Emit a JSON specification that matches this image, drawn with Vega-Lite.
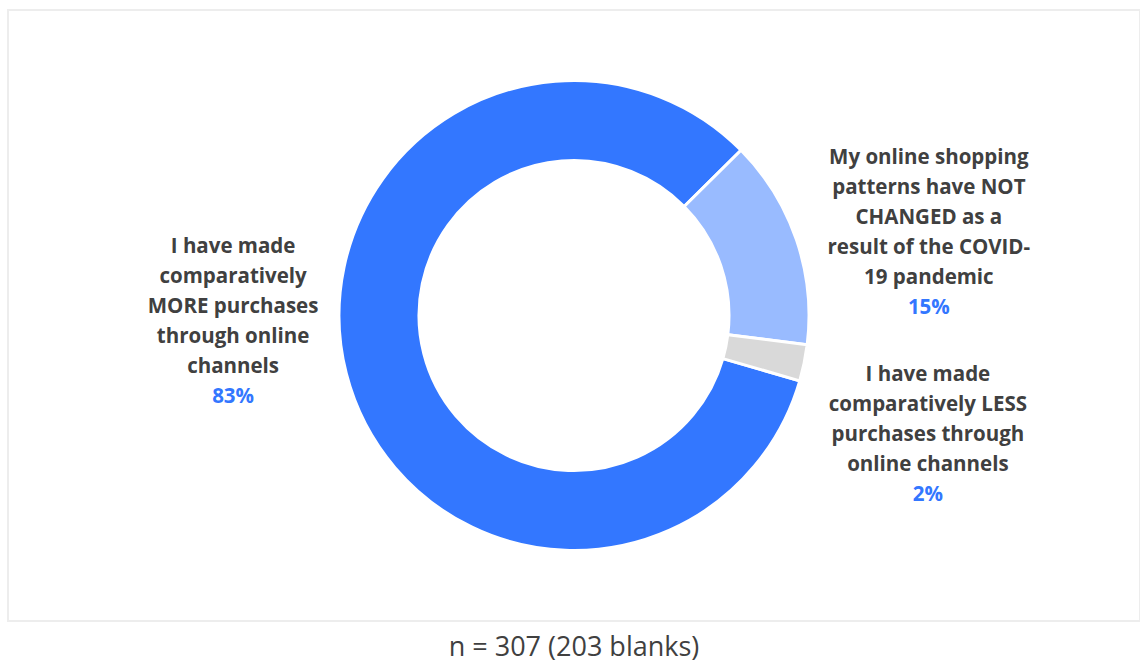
{
  "$schema": "https://vega.github.io/schema/vega-lite/v6.json",
  "autosize": "none",
  "width": 1132,
  "height": 611,
  "padding": {"left": 8, "top": 10, "right": 0, "bottom": 44},
  "background": "white",
  "view": {"stroke": "#EDEDED", "strokeWidth": 2},
  "config": {
    "view": {"stroke": "#EDEDED", "strokeWidth": 2},
    "text": {"font": "Open Sans"}
  },
  "title": {
    "text": "n = 307 (203 blanks)",
    "orient": "bottom",
    "anchor": "middle",
    "font": "Open Sans",
    "fontSize": 27,
    "fontWeight": "normal",
    "color": "#404040",
    "offset": 14
  },
  "data": {
    "values": [
      {"category": "more", "label": ["I have made", "comparatively", "MORE purchases", "through online", "channels"], "pct": "83%", "value": 83.1, "order": 3},
      {"category": "notchanged", "label": ["My online shopping", "patterns have NOT", "CHANGED as a", "result of the COVID-", "19 pandemic"], "pct": "15%", "value": 14.4, "order": 1},
      {"category": "less", "label": ["I have made", "comparatively LESS", "purchases through", "online channels"], "pct": "2%", "value": 2.5, "order": 2}
    ]
  },
  "layer": [
    {
      "mark": {"type": "arc", "outerRadius": 235, "innerRadius": 155, "stroke": "white", "strokeWidth": 3},
      "encoding": {
        "theta": {"field": "value", "type": "quantitative", "stack": true, "scale": {"range": [0.7906, 7.0738]}},
        "color": {
          "field": "category", "type": "nominal",
          "scale": {"domain": ["more", "notchanged", "less"], "range": ["#3377FF", "#99BBFF", "#D9D9D9"]},
          "legend": null
        },
        "order": {"field": "order", "type": "quantitative"}
      }
    },
    {
      "transform": [{"filter": "datum.category == 'notchanged'"}],
      "mark": {"type": "text", "theta": 1.3027, "radius": 368, "dy": -60, "align": "center", "baseline": "middle", "fontSize": 20.5, "fontWeight": "bold", "lineHeight": 30, "fill": "#404040"},
      "encoding": {"text": {"field": "label", "type": "nominal"}}
    },
    {
      "transform": [{"filter": "datum.category == 'notchanged'"}],
      "mark": {"type": "text", "theta": 1.3027, "radius": 368, "dy": 90, "align": "center", "baseline": "middle", "fontSize": 20.5, "fontWeight": "bold", "fill": "#3377FF"},
      "encoding": {"text": {"field": "pct", "type": "nominal"}}
    },
    {
      "transform": [{"filter": "datum.category == 'less'"}],
      "mark": {"type": "text", "theta": 1.858, "radius": 369, "dy": -45, "align": "center", "baseline": "middle", "fontSize": 20.5, "fontWeight": "bold", "lineHeight": 30, "fill": "#404040"},
      "encoding": {"text": {"field": "label", "type": "nominal"}}
    },
    {
      "transform": [{"filter": "datum.category == 'less'"}],
      "mark": {"type": "text", "theta": 1.858, "radius": 369, "dy": 75, "align": "center", "baseline": "middle", "fontSize": 20.5, "fontWeight": "bold", "fill": "#3377FF"},
      "encoding": {"text": {"field": "pct", "type": "nominal"}}
    },
    {
      "transform": [{"filter": "datum.category == 'more'"}],
      "mark": {"type": "text", "theta": 4.7374, "radius": 341, "dy": -60, "align": "center", "baseline": "middle", "fontSize": 20.5, "fontWeight": "bold", "lineHeight": 30, "fill": "#404040"},
      "encoding": {"text": {"field": "label", "type": "nominal"}}
    },
    {
      "transform": [{"filter": "datum.category == 'more'"}],
      "mark": {"type": "text", "theta": 4.7374, "radius": 341, "dy": 90, "align": "center", "baseline": "middle", "fontSize": 20.5, "fontWeight": "bold", "fill": "#3377FF"},
      "encoding": {"text": {"field": "pct", "type": "nominal"}}
    }
  ]
}
